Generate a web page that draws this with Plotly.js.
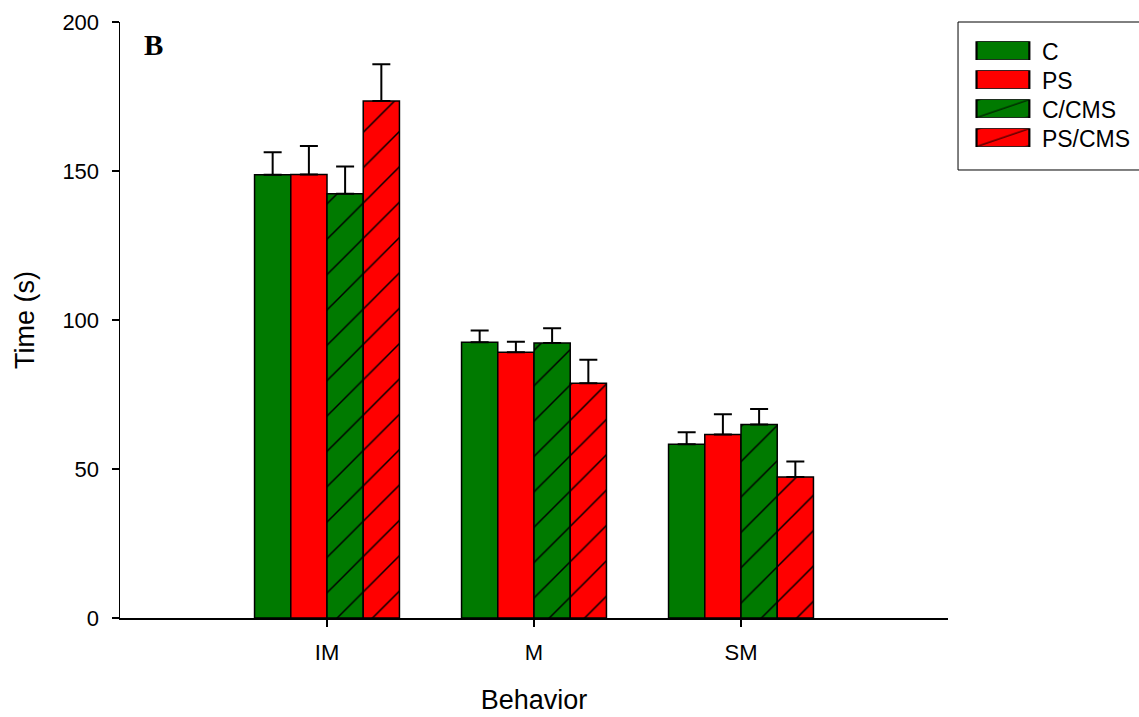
<!DOCTYPE html>
<html>
<head>
<meta charset="utf-8">
<script src="https://cdn.plot.ly/plotly-3.0.1.min.js"></script>
<style>html,body{margin:0;padding:0;background:#fff;}</style>
</head>
<body>
<div id="chart" style="width:1139px;height:717px;"></div>
<script>
var categories = ["IM", "M", "SM"];
var seriesNames = ["C", "PS", "C/CMS", "PS/CMS"];
var valC = [148.7, 92.5, 58.3];
var valPS = [148.8, 89.2, 61.6];
var valCCMS = [142.4, 92.3, 64.9];
var valPSCMS = [173.5, 78.8, 47.3];
var errC = [7.6, 4.0, 4.0];
var errPS = [9.6, 3.5, 6.8];
var errCCMS = [9.1, 4.9, 5.2];
var errPSCMS = [12.3, 7.9, 5.2];
var yTicks = [0, 50, 100, 150, 200];

var GREEN = "#007a00", RED = "#ff0000";
function mk(name, vals, errs, color, hatch) {
  var marker = {color: color, line: {color: "#000", width: 1.5}};
  if (hatch) marker.pattern = {shape: "/", fgcolor: "#000", bgcolor: color, size: 25, solidity: 0.06, fillmode: "replace"};
  return {
    type: "bar", name: name, x: categories, y: vals,
    marker: marker,
    error_y: {type: "data", array: errs, symmetric: false, arrayminus: [0,0,0], color: "#000", thickness: 2, width: 9}
  };
}
var data = [
  mk(seriesNames[0], valC, errC, GREEN, false),
  mk(seriesNames[1], valPS, errPS, RED, false),
  mk(seriesNames[2], valCCMS, errCCMS, GREEN, true),
  mk(seriesNames[3], valPSCMS, errPSCMS, RED, true)
];
var layout = {
  width: 1139, height: 717,
  margin: {l: 120, r: 191, t: 22, b: 99, autoexpand: false},
  paper_bgcolor: "#fff", plot_bgcolor: "#fff",
  barmode: "group", bargap: 0.3, bargroupgap: 0,
  font: {family: "Liberation Sans, Arial, sans-serif", color: "#000", size: 22},
  showlegend: true,
  legend: {x: 1.012, y: 0.988, xanchor: "left", yanchor: "top", borderwidth: 0, bgcolor: "rgba(0,0,0,0)",
           font: {size: 23}, itemwidth: 74, tracegroupgap: 0, traceorder: "normal"},
  xaxis: {
    range: [-1, 3], showline: true, linecolor: "#000", linewidth: 1.5,
    ticks: "outside", ticklen: 7, tickcolor: "#000", tickwidth: 1.5,
    showgrid: false, zeroline: false, ticklabelstandoff: 7,
    tickfont: {size: 22},
    title: {text: "Behavior", font: {size: 27}, standoff: 26}
  },
  yaxis: {
    range: [0, 200], tickvals: yTicks, showline: true, linecolor: "#000", linewidth: 1.5,
    ticks: "outside", ticklen: 7, tickcolor: "#000", tickwidth: 1.5,
    showgrid: false, zeroline: false, ticklabelstandoff: 8,
    tickfont: {size: 22},
    title: {text: "Time (s)", font: {size: 27}, standoff: 20}
  },
  shapes: [{
    type: "rect", xref: "paper", yref: "paper", x0: 1.0121, x1: 1.235, y0: 0.7517, y1: 1.0,
    line: {color: "#000", width: 1}, fillcolor: "rgba(0,0,0,0)", layer: "below"
  }],
  annotations: [{
    text: "<b>B</b>", xref: "paper", yref: "paper", x: 0.0266, y: 0.9916, xanchor: "left", yanchor: "top",
    showarrow: false, font: {family: "Liberation Serif, Times New Roman, serif", size: 29, color: "#000"}
  }]
};
Plotly.newPlot("chart", data, layout, {displayModeBar: false, staticPlot: true}).then(function(){
  var pts = document.querySelectorAll(".legend .legendpoints path");
  pts.forEach(function(p){
    var t = p.getAttribute("transform") || "";
    p.setAttribute("transform", "translate(3,0) " + t + " scale(4.4,1.5)");
    p.style.strokeWidth = "0.5px";
  });
  var items = document.querySelectorAll(".legend g.traces");
  var y0 = null, x0 = null;
  items.forEach(function(g, i){
    var m = /translate\(\s*([-\d.]+)[ ,]+([-\d.]+)\s*\)/.exec(g.getAttribute("transform") || "");
    if (!m) return;
    if (y0 === null) { x0 = parseFloat(m[1]); y0 = parseFloat(m[2]); }
    g.setAttribute("transform", "translate(" + x0 + "," + (y0 + i * 29) + ")");
  });
});
</script>
</body>
</html>
